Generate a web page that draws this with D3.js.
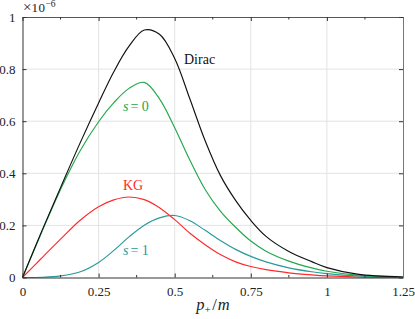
<!DOCTYPE html>
<html>
<head>
<meta charset="utf-8">
<script src="https://cdn.jsdelivr.net/npm/d3@7"></script>
<style>
  body { margin: 0; background: #fff; }
  svg { display: block; }
  text { font-family: "Liberation Serif", "Times New Roman", "DejaVu Serif", serif; }
</style>
</head>
<body>
<div id="chart"></div>
<script>
// momentum grid p+/m
const px = [0, 0.0625, 0.125, 0.1875, 0.25, 0.3, 0.35, 0.4, 0.45, 0.5, 0.55,
            0.6, 0.65, 0.7, 0.75, 0.8, 0.875, 0.95, 1.0, 1.1, 1.25];

// spectra in units of 1e-6
const dirac = [0, 0.176, 0.345, 0.512, 0.67, 0.79, 0.888, 0.95, 0.934, 0.841, 0.685,
               0.525, 0.392, 0.296, 0.219, 0.158, 0.10, 0.061, 0.038, 0.013, 0.002];
const spin0 = [0, 0.172, 0.338, 0.483, 0.598, 0.671, 0.726, 0.749, 0.686, 0.575, 0.45,
               0.338, 0.255, 0.193, 0.14, 0.101, 0.063, 0.037, 0.024, 0.009, 0.001];
const kg    = [0, 0.074, 0.147, 0.218, 0.272, 0.298, 0.309, 0.299, 0.268, 0.222, 0.170,
               0.126, 0.088, 0.060, 0.042, 0.030, 0.018, 0.010, 0.006, 0.002, 0];
const spin1 = [0, 0.0008, 0.006, 0.021, 0.058, 0.104, 0.156, 0.201, 0.229, 0.238, 0.218,
               0.181, 0.142, 0.108, 0.081, 0.060, 0.037, 0.022, 0.015, 0.006, 0.001];

const xTicks = [0, 0.25, 0.5, 0.75, 1, 1.25];
const xTickLabels = ['0', '0.25', '0.5', '0.75', '1', '1.25'];
const xMinor = [0.125, 0.375, 0.625, 0.875, 1.125];
const yTicks = [0, 0.2, 0.4, 0.6, 0.8, 1];
const yTickLabels = ['0', '0.2', '0.4', '0.6', '0.8', '1'];

const serif = '"Liberation Serif", "Times New Roman", "DejaVu Serif", serif';
const width = 415;
const height = 319;

const svg = d3.select('#chart')
  .append('svg')
    .attr('width', width)
    .attr('height', height);

const x = d3.scaleLinear().domain([0, 1.25]).range([22.5, 403]);
const y = d3.scaleLinear().domain([0, 1]).range([277.5, 17]);

// grid
svg.append('g')
  .selectAll('line')
  .data(xTicks.slice(1, -1))
  .join('line')
    .attr('x1', d => x(d)).attr('x2', d => x(d))
    .attr('y1', y(0)).attr('y2', y(1))
    .attr('stroke', '#e3e3e3');

svg.append('g')
  .selectAll('line')
  .data(yTicks.slice(1, -1))
  .join('line')
    .attr('x1', x(0)).attr('x2', x(1.25))
    .attr('y1', d => y(d)).attr('y2', d => y(d))
    .attr('stroke', '#e3e3e3');

// curves
const series = [
  { vals: kg, color: '#ff2b2b' },
  { vals: spin1, color: '#2a9a9a' },
  { vals: spin0, color: '#22a84a' },
  { vals: dirac, color: '#111111' }
];

const line = d3.line()
  .x((d, i) => x(px[i]))
  .y(d => y(d))
  .curve(d3.curveCatmullRom.alpha(0.5));

svg.append('g')
  .selectAll('path')
  .data(series)
  .join('path')
    .attr('d', d => line(d.vals))
    .attr('fill', 'none')
    .attr('stroke', d => d.color)
    .attr('stroke-width', 1.15);

// axes, ticks inside the box
const axBottom = svg.append('g')
    .attr('transform', `translate(0, ${y(0)})`)
    .call(d3.axisBottom(x).tickValues(xTicks).tickFormat((d, i) => xTickLabels[i])
      .tickSizeInner(-4).tickSizeOuter(0).tickPadding(9));

const axTop = svg.append('g')
    .attr('transform', `translate(0, ${y(1)})`)
    .call(d3.axisTop(x).tickValues(xTicks).tickFormat('')
      .tickSizeInner(-4).tickSizeOuter(0));

const axLeft = svg.append('g')
    .attr('transform', `translate(${x(0)}, 0)`)
    .call(d3.axisLeft(y).tickValues(yTicks).tickFormat((d, i) => yTickLabels[i])
      .tickSizeInner(-4).tickSizeOuter(0).tickPadding(7));

const axRight = svg.append('g')
    .attr('transform', `translate(${x(1.25)}, 0)`)
    .call(d3.axisRight(y).tickValues(yTicks).tickFormat('')
      .tickSizeInner(-4).tickSizeOuter(0));

// minor x ticks, bottom and top
svg.append('g')
  .selectAll('line')
  .data(xMinor)
  .join('line')
    .attr('x1', d => x(d)).attr('x2', d => x(d))
    .attr('y1', y(0)).attr('y2', y(0) - 2.5)
    .attr('stroke', '#333');
svg.append('g')
  .selectAll('line')
  .data(xMinor)
  .join('line')
    .attr('x1', d => x(d)).attr('x2', d => x(d))
    .attr('y1', y(1)).attr('y2', y(1) + 2.5)
    .attr('stroke', '#333');

[axBottom, axTop, axLeft, axRight].forEach(g => {
  g.attr('font-family', serif).attr('font-size', 13);
  g.select('.domain').attr('stroke', '#333');
  g.selectAll('.tick line').attr('stroke', '#333');
  g.selectAll('.tick text').attr('fill', '#222');
});
axTop.select('.domain').attr('stroke', '#555');
axRight.select('.domain').attr('stroke', '#777');

// x label
const xl = svg.append('text')
    .attr('x', 213)
    .attr('y', 310)
    .attr('text-anchor', 'middle')
    .attr('font-family', serif)
    .attr('font-size', 16.5)
    .attr('fill', '#222');
xl.append('tspan').style('font-style', 'italic').text('p');
xl.append('tspan').attr('dy', 3).attr('font-size', 11).text('+');
xl.append('tspan').attr('dy', -3).attr('dx', 1.5).text('/');
xl.append('tspan').attr('dx', 1).style('font-style', 'italic').text('m');

// exponent note
const ex = svg.append('text')
    .attr('x', 23)
    .attr('y', 12)
    .attr('font-family', serif)
    .attr('font-size', 13)
    .attr('fill', '#222');
ex.append('tspan').attr('font-size', 15).text('\u00d7');
ex.append('tspan').attr('letter-spacing', 0.5).text('10');
ex.append('tspan').attr('dy', -5).attr('font-size', 9.5).text('\u22126');

// curve labels
svg.append('text')
    .attr('x', 184).attr('y', 64)
    .attr('font-family', serif)
    .attr('font-size', 14)
    .attr('fill', '#111')
    .text('Dirac');

svg.append('text')
    .attr('x', 123).attr('y', 190)
    .attr('font-family', serif)
    .attr('font-size', 14)
    .attr('fill', '#ff2b2b')
    .text('KG');

const s0 = svg.append('text')
    .attr('x', 123).attr('y', 111)
    .attr('font-family', serif)
    .attr('font-size', 14)
    .attr('fill', '#22a84a');
s0.append('tspan').style('font-style', 'italic').text('s');
s0.append('tspan').attr('dx', 2).text('= ');
s0.append('tspan').text('0');

const s1 = svg.append('text')
    .attr('x', 123).attr('y', 255)
    .attr('font-family', serif)
    .attr('font-size', 14)
    .attr('fill', '#2a9a9a');
s1.append('tspan').style('font-style', 'italic').text('s');
s1.append('tspan').attr('dx', 2).text('= ');
s1.append('tspan').text('1');
</script>
</body>
</html>
